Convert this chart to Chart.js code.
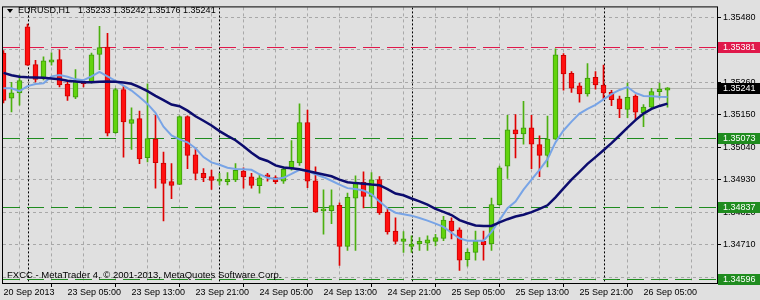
<!DOCTYPE html>
<html>
<head>
<meta charset="utf-8">
<script src="https://cdn.jsdelivr.net/npm/chart.js@4.4.1/dist/chart.umd.min.js"></script>
<style>
  html, body { margin: 0; padding: 0; background: #e0e0e0; }
  canvas { display: block; }
</style>
</head>
<body>
<canvas id="chart" width="760" height="300"></canvas>
<script>
// titre et textes
const symbole = 'EURUSD,H1';
const derniereBarre = '1.35233 1.35242 1.35176 1.35241';
const copyright = 'FXCC - MetaTrader 4, \u00a9 2001-2013, MetaQuotes Software Corp.';

// étiquettes de temps (une toutes les 8 barres)
const etiquettesTemps = ['20 Sep 2013', '23 Sep 05:00', '23 Sep 13:00', '23 Sep 21:00', '24 Sep 05:00',
    '24 Sep 13:00', '24 Sep 21:00', '25 Sep 05:00', '25 Sep 13:00', '25 Sep 21:00', '26 Sep 05:00'];

// bougies H1 (open, high, low, close)
const ouvertures = [
    1.35359, 1.35206, 1.35224, 1.35448, 1.35320, 1.35274, 1.35328, 1.35337, 1.35254, 1.35210,
    1.35263, 1.35263, 1.35354, 1.35379, 1.35090, 1.35235, 1.35121, 1.35137, 1.35005, 1.35068,
    1.34987, 1.34924, 1.34915, 1.35144, 1.35015, 1.34952, 1.34941, 1.34926, 1.34924, 1.34930,
    1.34960, 1.34940, 1.34910, 1.34941, 1.34938, 1.34926, 1.34971, 1.34987, 1.35124, 1.34927,
    1.34825, 1.34826, 1.34844, 1.34705, 1.34868, 1.34922, 1.34874, 1.34931, 1.34821, 1.34757,
    1.34722, 1.34705, 1.34713, 1.34716, 1.34722, 1.34732, 1.34791, 1.34761, 1.34660, 1.34685,
    1.34722, 1.34713, 1.34846, 1.34976, 1.35099, 1.35085, 1.35106, 1.35049, 1.35013, 1.35068,
    1.35351, 1.35290, 1.35248, 1.35221, 1.35277, 1.35251, 1.35226, 1.35204, 1.35168, 1.35213,
    1.35157, 1.35176, 1.35228, 1.35233
];
const hauts = [
    1.35367, 1.35260, 1.35284, 1.35457, 1.35334, 1.35346, 1.35360, 1.35370, 1.35264, 1.35303,
    1.35268, 1.35359, 1.35449, 1.35426, 1.35240, 1.35246, 1.35174, 1.35163, 1.35255, 1.35148,
    1.35024, 1.34985, 1.35147, 1.35147, 1.35035, 1.34968, 1.34963, 1.34952, 1.34955, 1.34985,
    1.34971, 1.34952, 1.34946, 1.34952, 1.34944, 1.34974, 1.35063, 1.35187, 1.35166, 1.34974,
    1.34896, 1.34896, 1.34852, 1.34885, 1.34944, 1.34957, 1.34955, 1.34941, 1.34835, 1.34802,
    1.34755, 1.34741, 1.34735, 1.34741, 1.34746, 1.34807, 1.34802, 1.34768, 1.34697, 1.34757,
    1.34757, 1.34868, 1.34977, 1.35148, 1.35151, 1.35196, 1.35148, 1.35079, 1.35146, 1.35373,
    1.35357, 1.35296, 1.35257, 1.35323, 1.35296, 1.35318, 1.35233, 1.35213, 1.35257, 1.35218,
    1.35185, 1.35240, 1.35257, 1.35242
];
const bas = [
    1.35190, 1.35160, 1.35183, 1.35317, 1.35261, 1.35268, 1.35318, 1.35244, 1.35199, 1.35205,
    1.35244, 1.35257, 1.35303, 1.35079, 1.35087, 1.35007, 1.35033, 1.34985, 1.34991, 1.34902,
    1.34791, 1.34866, 1.34914, 1.34968, 1.34930, 1.34924, 1.34898, 1.34913, 1.34913, 1.34924,
    1.34902, 1.34902, 1.34885, 1.34926, 1.34917, 1.34918, 1.34963, 1.34979, 1.34904, 1.34820,
    1.34746, 1.34782, 1.34641, 1.34691, 1.34691, 1.34835, 1.34835, 1.34813, 1.34746, 1.34713,
    1.34685, 1.34685, 1.34691, 1.34691, 1.34707, 1.34724, 1.34730, 1.34624, 1.34638, 1.34658,
    1.34658, 1.34691, 1.34844, 1.34935, 1.35004, 1.35051, 1.34968, 1.34941, 1.34974, 1.35067,
    1.35233, 1.35226, 1.35193, 1.35213, 1.35237, 1.35201, 1.35181, 1.35140, 1.35140, 1.35135,
    1.35110, 1.35168, 1.35207, 1.35176
];
const clotures = [
    1.35199, 1.35224, 1.35266, 1.35318, 1.35270, 1.35333, 1.35336, 1.35251, 1.35213, 1.35263,
    1.35255, 1.35353, 1.35377, 1.35088, 1.35235, 1.35126, 1.35134, 1.35001, 1.35070, 1.34988,
    1.34918, 1.34911, 1.35144, 1.35013, 1.34952, 1.34937, 1.34928, 1.34927, 1.34932, 1.34962,
    1.34940, 1.34911, 1.34937, 1.34940, 1.34924, 1.34966, 1.34993, 1.35124, 1.34926, 1.34822,
    1.34827, 1.34843, 1.34705, 1.34871, 1.34918, 1.34874, 1.34930, 1.34818, 1.34754, 1.34722,
    1.34731, 1.34713, 1.34722, 1.34727, 1.34735, 1.34794, 1.34757, 1.34658, 1.34685, 1.34722,
    1.34711, 1.34846, 1.34971, 1.35099, 1.35085, 1.35106, 1.35051, 1.35013, 1.35068, 1.35353,
    1.35288, 1.35240, 1.35221, 1.35274, 1.35251, 1.35224, 1.35201, 1.35170, 1.35209, 1.35159,
    1.35176, 1.35229, 1.35237, 1.35241
];

// moyennes mobiles
const moyenneRapide = [
    1.35240, 1.35240, 1.35230, 1.35247, 1.35254, 1.35257, 1.35280, 1.35285, 1.35279, 1.35270,
    1.35267, 1.35280, 1.35295, 1.35280, 1.35265, 1.35249, 1.35232, 1.35210, 1.35187, 1.35157,
    1.35110, 1.35080, 1.35067, 1.35057, 1.35037, 1.35007, 1.34989, 1.34981, 1.34971, 1.34967,
    1.34966, 1.34964, 1.34949, 1.34937, 1.34933, 1.34937, 1.34950, 1.34964, 1.34960, 1.34949,
    1.34939, 1.34927, 1.34914, 1.34902, 1.34899, 1.34894, 1.34881, 1.34857, 1.34834, 1.34819,
    1.34814, 1.34809, 1.34801, 1.34792, 1.34782, 1.34771, 1.34751, 1.34732, 1.34724, 1.34724,
    1.34724, 1.34754, 1.34794, 1.34834, 1.34857, 1.34897, 1.34931, 1.34964, 1.35000, 1.35057,
    1.35097, 1.35127, 1.35154, 1.35170, 1.35184, 1.35202, 1.35220, 1.35234, 1.35244, 1.35224,
    1.35214, 1.35213, 1.35211, 1.35210
];
const moyenneLente = [
    1.35292, 1.35284, 1.35279, 1.35277, 1.35276, 1.35275, 1.35273, 1.35270, 1.35265, 1.35263,
    1.35260, 1.35260, 1.35262, 1.35263, 1.35262, 1.35259, 1.35255, 1.35244, 1.35230, 1.35214,
    1.35200, 1.35185, 1.35179, 1.35164, 1.35145, 1.35130, 1.35114, 1.35095, 1.35079, 1.35064,
    1.35044, 1.35022, 1.35003, 1.34994, 1.34979, 1.34972, 1.34969, 1.34966, 1.34960, 1.34954,
    1.34948, 1.34942, 1.34931, 1.34922, 1.34919, 1.34917, 1.34914, 1.34912, 1.34899, 1.34884,
    1.34878, 1.34867, 1.34857, 1.34846, 1.34832, 1.34822, 1.34811, 1.34794, 1.34784, 1.34776,
    1.34774, 1.34774, 1.34786, 1.34797, 1.34806, 1.34812, 1.34821, 1.34832, 1.34844, 1.34871,
    1.34901, 1.34931, 1.34957, 1.34984, 1.35007, 1.35030, 1.35054, 1.35080, 1.35107, 1.35132,
    1.35154, 1.35170, 1.35180, 1.35188
];

// axe des prix
const ticksPrix = [1.35480, 1.35370, 1.35260, 1.35150, 1.35040, 1.34930, 1.34820, 1.34710, 1.34600];
// niveaux horizontaux
const niveauxRouges = [1.35381];
const niveauxVerts = [1.35073, 1.34837, 1.34596];
const prixBid = 1.35241;
// séparateurs de jours (index de barre)
const separateursJours = [3, 27, 51, 75];

const couleurs = {
    fond: '#e0e0e0',
    grille: '#a8a8a8',
    corpsHausse: '#62d30e',
    bordHausse: '#3c9a0c',
    corpsBaisse: '#ff1010',
    bordBaisse: '#cc0000',
    mecheHausse: '#4cb010',
    mecheBaisse: '#e00000',
    rapide: '#78a4e6',
    lente: '#0c0c6e',
    rouge: '#e0184a',
    vert: '#1f8c1f',
    bid: '#b4b4b4'
};
const police = "'Liberation Sans', Arial, sans-serif";

const hausse = i => clotures[i] >= ouvertures[i];
const barres = ouvertures.map((o, i) => i);

const decor = {
    id: 'decor',
    beforeDraw(chart) {
        const ctx = chart.ctx;
        ctx.save();
        ctx.fillStyle = couleurs.fond;
        ctx.fillRect(0, 0, chart.width, chart.height);
        ctx.restore();
    },
    beforeDatasetsDraw(chart) {
        const {ctx, chartArea: a, scales: {x, y}} = chart;
        ctx.save();
        ctx.beginPath();
        ctx.rect(a.left, a.top, a.right - a.left, a.bottom - a.top);
        ctx.clip();
        ctx.lineWidth = 1;
        // séparateurs de jours
        ctx.strokeStyle = '#000';
        ctx.setLineDash([2, 2]);
        separateursJours.forEach(b => {
            const px = Math.round(x.getPixelForValue(b)) + 0.5;
            ctx.beginPath();
            ctx.moveTo(px, a.top);
            ctx.lineTo(px, a.bottom);
            ctx.stroke();
        });
        // ligne bid
        ctx.setLineDash([]);
        ctx.strokeStyle = couleurs.bid;
        const py = Math.round(y.getPixelForValue(prixBid)) + 0.5;
        ctx.beginPath(); ctx.moveTo(a.left, py); ctx.lineTo(a.right, py); ctx.stroke();
        // niveaux
        ctx.setLineDash([17, 7]);
        const trace = (v, c) => {
            ctx.strokeStyle = c;
            const p = Math.round(y.getPixelForValue(v)) + 0.5;
            ctx.beginPath(); ctx.moveTo(a.left, p); ctx.lineTo(a.right, p); ctx.stroke();
        };
        niveauxRouges.forEach(v => trace(v, couleurs.rouge));
        niveauxVerts.forEach(v => trace(v, couleurs.vert));
        ctx.restore();
    },
    afterDraw(chart) {
        const {ctx, chartArea: a, scales: {y}} = chart;
        ctx.save();
        // cadre
        ctx.strokeStyle = '#000';
        ctx.lineWidth = 1;
        ctx.strokeRect(a.left - 0.5, a.top - 0.5, a.right - a.left + 1, a.bottom - a.top + 1);
        // titre
        ctx.fillStyle = '#000';
        ctx.beginPath();
        ctx.moveTo(7, 9); ctx.lineTo(13, 9); ctx.lineTo(10, 13); ctx.closePath();
        ctx.fill();
        ctx.font = '9px ' + police;
        ctx.textBaseline = 'middle';
        ctx.textAlign = 'left';
        ctx.fillText(symbole, 18, 11);
        ctx.fillText(derniereBarre, 78, 11);
        ctx.font = '9.5px ' + police;
        ctx.fillText(copyright, 7, 275);
        ctx.font = '9px ' + police;
        // étiquettes de prix colorées
        const boite = (v, fond) => {
            const p = Math.round(y.getPixelForValue(v));
            ctx.fillStyle = fond;
            ctx.fillRect(a.right + 1, p - 5, chart.width - a.right - 1, 11);
            ctx.fillStyle = '#fff';
            ctx.fillText(v.toFixed(5), a.right + 6, p + 0.5);
        };
        niveauxRouges.forEach(v => boite(v, couleurs.rouge));
        boite(prixBid, '#000');
        niveauxVerts.forEach(v => boite(v, couleurs.vert));
        ctx.restore();
    }
};

new Chart(document.getElementById('chart'), {
    type: 'bar',
    data: {
        datasets: [
            {
                type: 'line',
                data: barres.map(i => ({x: i, y: moyenneLente[i]})),
                borderColor: couleurs.lente,
                borderWidth: 2.5,
                pointRadius: 0,
                tension: 0,
                order: 0
            },
            {
                type: 'line',
                data: barres.map(i => ({x: i, y: moyenneRapide[i]})),
                borderColor: couleurs.rapide,
                borderWidth: 2,
                pointRadius: 0,
                tension: 0,
                order: 1
            },
            {
                data: barres.map(i => ({x: i, y: [ouvertures[i], clotures[i]]})),
                backgroundColor: ctx => hausse(ctx.dataIndex) ? couleurs.corpsHausse : couleurs.corpsBaisse,
                borderColor: ctx => hausse(ctx.dataIndex) ? couleurs.bordHausse : couleurs.bordBaisse,
                borderWidth: 1,
                borderSkipped: false,
                barThickness: 5,
                minBarLength: 2,
                grouped: false,
                order: 2
            },
            {
                data: barres.map(i => ({x: i, y: [bas[i], hauts[i]]})),
                backgroundColor: ctx => hausse(ctx.dataIndex) ? couleurs.mecheHausse : couleurs.mecheBaisse,
                borderWidth: 0,
                barThickness: 1,
                grouped: false,
                order: 3
            }
        ]
    },
    options: {
        responsive: false,
        animation: false,
        devicePixelRatio: 1,
        layout: { padding: { left: 3, top: 3, right: 0, bottom: 0 } },
        plugins: { legend: { display: false }, tooltip: { enabled: false } },
        scales: {
            x: {
                type: 'linear',
                min: -0.0625,
                max: 89.1875,
                offset: false,
                afterBuildTicks: s => { s.ticks = Array.from({length: 23}, (v, k) => ({value: k * 4})); },
                afterFit: s => { s.height = 17; },
                grid: {
                    color: couleurs.grille,
                    tickLength: 4,
                    tickColor: c => (c.tick && c.tick.value % 8 === 0 && c.tick.value / 8 < etiquettesTemps.length) ? '#000' : 'rgba(0,0,0,0)'
                },
                border: { display: false, dash: [3, 3] },
                ticks: {
                    autoSkip: false,
                    maxRotation: 0,
                    align: 'start',
                    padding: 0,
                    color: '#000',
                    font: { family: police, size: 9 },
                    callback: v => (v % 8 === 0 && etiquettesTemps[v / 8]) ? etiquettesTemps[v / 8] : ''
                }
            },
            y: {
                position: 'right',
                min: 1.345812,
                max: 1.355133,
                afterBuildTicks: s => { s.ticks = ticksPrix.map(v => ({value: v})); },
                afterFit: s => { s.width = 43; },
                grid: { color: couleurs.grille, tickLength: 4, tickColor: '#000' },
                border: { display: false, dash: [3, 3] },
                ticks: {
                    padding: 2,
                    color: '#000',
                    font: { family: police, size: 9 },
                    callback: v => v.toFixed(5)
                }
            }
        }
    },
    plugins: [decor]
});
</script>
</body>
</html>
